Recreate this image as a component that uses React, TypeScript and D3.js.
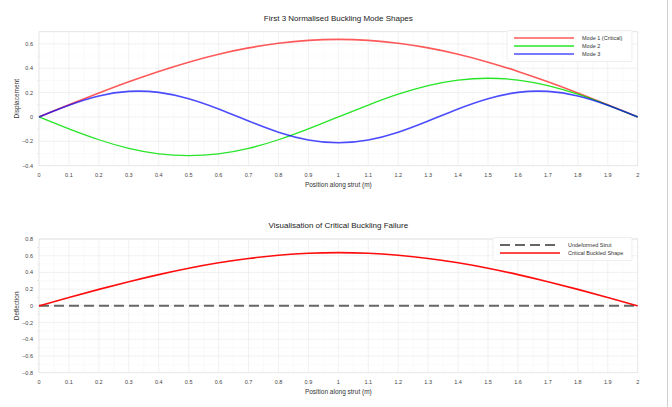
import React, { useRef, useEffect } from "react";
import * as d3 from "d3";

// positions along the strut (m)
const positions = [0, 0.1, 0.2, 0.3, 0.4, 0.5, 0.6, 0.7, 0.8, 0.9, 1.0, 1.1, 1.2, 1.3, 1.4, 1.5, 1.6, 1.7, 1.8, 1.9, 2.0];
const mode1 = [0, 0.1, 0.197, 0.289, 0.374, 0.45, 0.515, 0.567, 0.605, 0.629, 0.637, 0.629, 0.605, 0.567, 0.515, 0.45, 0.374, 0.289, 0.197, 0.1, 0];
const mode2 = [0, -0.098, -0.187, -0.258, -0.303, -0.318, -0.303, -0.258, -0.187, -0.098, 0, 0.098, 0.187, 0.258, 0.303, 0.318, 0.303, 0.258, 0.187, 0.098, 0];
const mode3 = [0, 0.096, 0.172, 0.21, 0.202, 0.15, 0.066, -0.033, -0.125, -0.189, -0.212, -0.189, -0.125, -0.033, 0.066, 0.15, 0.202, 0.21, 0.172, 0.096, 0];
const undeformed = [0, 0, 0, 0, 0, 0, 0, 0, 0, 0, 0, 0, 0, 0, 0, 0, 0, 0, 0, 0, 0];

const xTicks = positions;
const topYTicks = [-0.4, -0.2, 0, 0.2, 0.4, 0.6];
const bottomYTicks = [-0.8, -0.6, -0.4, -0.2, 0, 0.2, 0.4, 0.6, 0.8];

const FONT = "'Liberation Sans', Arial, sans-serif";

type Series = { name: string; values: number[]; color: string; width: number; dash?: string; opacity?: number };

function drawPanel(
  svg: d3.Selection<SVGSVGElement, unknown, null, undefined>,
  opts: {
    top: number;
    bottom: number;
    yDomain: [number, number];
    yTicks: number[];
    minorY: number[];
    title: string;
    yLabel: string;
    series: Series[];
    legend: { x0: number; y0: number; w: number };
  }
) {
  const left = 39;
  const right = 637.7;
  const x = d3.scaleLinear().domain([0, 2]).range([left, right]);
  const y = d3.scaleLinear().domain(opts.yDomain).range([opts.bottom, opts.top]);
  const g = svg.append("g");

  // minor grid
  const minorX = d3.range(0.05, 2, 0.1);
  g.selectAll(".mx").data(minorX).enter().append("line")
    .attr("x1", (d) => x(d)).attr("x2", (d) => x(d))
    .attr("y1", opts.top).attr("y2", opts.bottom)
    .attr("stroke", "#f5f5f5").attr("stroke-width", 0.5);
  g.selectAll(".my").data(opts.minorY).enter().append("line")
    .attr("x1", left).attr("x2", right)
    .attr("y1", (d) => y(d)).attr("y2", (d) => y(d))
    .attr("stroke", "#f5f5f5").attr("stroke-width", 0.5);

  // major grid
  g.selectAll(".gx").data(xTicks).enter().append("line")
    .attr("x1", (d) => x(d)).attr("x2", (d) => x(d))
    .attr("y1", opts.top).attr("y2", opts.bottom)
    .attr("stroke", "#ebebeb").attr("stroke-width", 0.7);
  g.selectAll(".gy").data(opts.yTicks.concat([opts.yDomain[1]])).enter().append("line")
    .attr("x1", left).attr("x2", right)
    .attr("y1", (d) => y(d)).attr("y2", (d) => y(d))
    .attr("stroke", "#ebebeb").attr("stroke-width", 0.7);

  // frame
  g.append("rect")
    .attr("x", left).attr("y", opts.top)
    .attr("width", right - left).attr("height", opts.bottom - opts.top)
    .attr("fill", "none").attr("stroke", "#e6e6e6").attr("stroke-width", 0.7);

  // minor y ticks
  g.selectAll(".mt").data(opts.minorY).enter().append("line")
    .attr("x1", left - 2).attr("x2", left)
    .attr("y1", (d) => y(d)).attr("y2", (d) => y(d))
    .attr("stroke", "#ddd").attr("stroke-width", 0.6);

  // tick labels
  g.selectAll(".xl").data(xTicks).enter().append("text")
    .attr("x", (d) => x(d)).attr("y", opts.bottom + 11)
    .attr("text-anchor", "middle")
    .style("font-family", FONT).style("font-size", "5.5px").style("fill", "#444")
    .text((d) => d3.format("~g")(d));
  g.selectAll(".yl").data(opts.yTicks).enter().append("text")
    .attr("x", left - 6).attr("y", (d) => y(d) + 2)
    .attr("text-anchor", "end")
    .style("font-family", FONT).style("font-size", "5.5px").style("fill", "#444")
    .text((d) => d3.format("~g")(d));

  // axis titles
  g.append("text")
    .attr("x", (left + right) / 2).attr("y", opts.bottom + 21)
    .attr("text-anchor", "middle")
    .style("font-family", FONT).style("font-size", "6.5px").style("fill", "#333")
    .text("Position along strut (m)");
  g.append("text")
    .attr("transform", `translate(19, ${(opts.top + opts.bottom) / 2}) rotate(-90)`)
    .attr("text-anchor", "middle")
    .style("font-family", FONT).style("font-size", "6.5px").style("fill", "#333")
    .text(opts.yLabel);
  g.append("text")
    .attr("x", (left + right) / 2).attr("y", opts.top - 11)
    .attr("text-anchor", "middle")
    .style("font-family", FONT).style("font-size", "8px").style("fill", "#222")
    .text(opts.title);

  const line = d3.line<number>()
    .x((_, i) => x(positions[i]))
    .y((d) => y(d))
    .curve(d3.curveNatural);

  opts.series.forEach((s) => {
    g.append("path")
      .attr("d", line(s.values))
      .attr("fill", "none")
      .attr("stroke", s.color)
      .attr("stroke-width", s.width)
      .attr("stroke-opacity", s.opacity ?? 1)
      .attr("stroke-dasharray", s.dash ?? null);
  });

  // legend
  const { x0, y0, w } = opts.legend;
  const rowH = 8;
  const lg = g.append("g");
  lg.append("rect")
    .attr("x", x0).attr("y", y0)
    .attr("width", w).attr("height", opts.series.length * rowH + 7)
    .attr("fill", "#fff").attr("fill-opacity", 0.9)
    .attr("stroke", "#e6e6e6").attr("stroke-width", 0.7).attr("rx", 1);
  opts.series.forEach((s, i) => {
    const cy = y0 + 7.5 + i * rowH;
    lg.append("line")
      .attr("x1", x0 + 7).attr("x2", x0 + 67)
      .attr("y1", cy).attr("y2", cy)
      .attr("stroke", s.color).attr("stroke-width", s.width)
      .attr("stroke-opacity", s.opacity ?? 1)
      .attr("stroke-dasharray", s.dash ?? null);
    lg.append("text")
      .attr("x", x0 + 75).attr("y", cy + 2)
      .style("font-family", FONT).style("font-size", "5.5px").style("fill", "#333")
      .text(s.name);
  });
}

const App = () => {
  const ref = useRef<SVGSVGElement>(null);

  useEffect(() => {
    const svg = d3.select(ref.current!);
    svg.selectAll("*").remove();

    svg.append("line")
      .attr("x1", 667.5).attr("x2", 667.5).attr("y1", 0).attr("y2", 407)
      .attr("stroke", "#cfcfcf").attr("stroke-width", 1);

    drawPanel(svg, {
      top: 31.7,
      bottom: 165.7,
      yDomain: [-0.4, 0.7],
      yTicks: topYTicks,
      minorY: [-0.3, -0.1, 0.1, 0.3, 0.5],
      title: "First 3 Normalised Buckling Mode Shapes",
      yLabel: "Displacement",
      series: [
        { name: "Mode 1 (Critical)", values: mode1, color: "#ff0000", width: 1.6, opacity: 0.65 },
        { name: "Mode 2", values: mode2, color: "#00e000", width: 1.3, opacity: 0.85 },
        { name: "Mode 3", values: mode3, color: "#0000ff", width: 1.6, opacity: 0.7 },
      ],
      legend: { x0: 507, y0: 30.5, w: 125 },
    });

    drawPanel(svg, {
      top: 239,
      bottom: 372.7,
      yDomain: [-0.8, 0.8],
      yTicks: bottomYTicks,
      minorY: [-0.7, -0.5, -0.3, -0.1, 0.1, 0.3, 0.5, 0.7],
      title: "Visualisation of Critical Buckling Failure",
      yLabel: "Deflection",
      series: [
        { name: "Undeformed Strut", values: undeformed, color: "#555", width: 2, dash: "10,5", opacity: 0.9 },
        { name: "Critical Buckled Shape", values: mode1, color: "#ff0000", width: 1.6, opacity: 0.95 },
      ],
      legend: { x0: 493, y0: 237.5, w: 139 },
    });
  }, []);

  return (
    <div style={{ position: "absolute", left: 0, top: 0 }}>
      <svg ref={ref} width={672} height={407} style={{ display: "block", background: "#fff" }}></svg>
    </div>
  );
};

export default App;
